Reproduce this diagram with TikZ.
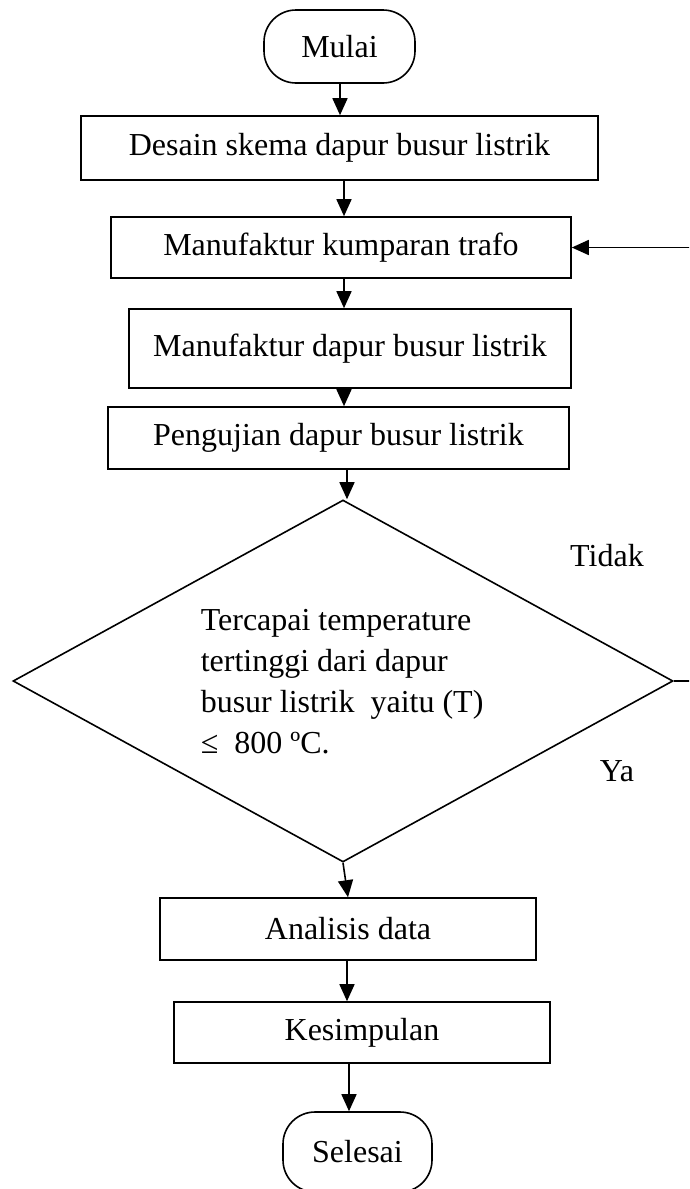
\documentclass[tikz,border=0pt]{standalone}
\usepackage{fontspec}
\setmainfont{Liberation Serif}
\usetikzlibrary{shapes.geometric,arrows.meta}
\begin{document}
\begin{tikzpicture}[x=1pt,y=-1pt,line width=1.6pt,
  txt/.style={font=\fontsize{32}{41}\selectfont},
  box/.style={draw,rectangle,inner sep=0pt,txt},
  term/.style={draw,rectangle,rounded corners=32pt,inner sep=0pt,txt},
  arr/.style={-{Triangle[length=17pt,width=15pt]}}]
\useasboundingbox (0,0) rectangle (689,1189);
\clip (0,0) rectangle (689,1189);
% nodes
\node[term,minimum width=151pt,minimum height=73pt] (start) at (339.5,46.5) {\raisebox{-4pt}{Mulai}};
\node[box,minimum width=517pt,minimum height=64pt] (b1) at (339.5,148) {Desain skema dapur busur listrik};
\node[box,minimum width=460pt,minimum height=61pt] (b2) at (341,247.5) {Manufaktur kumparan trafo};
\node[box,minimum width=442pt,minimum height=79pt] (b3) at (350,348.5) {\raisebox{6pt}{Manufaktur dapur busur listrik}};
\node[box,minimum width=461pt,minimum height=62pt] (b4) at (338.5,438) {Pengujian dapur busur listrik};
\node[draw,diamond,inner sep=0pt,shape aspect=1.823,minimum width=660pt,minimum height=362pt] (d) at (343,681) {};
\node[txt,anchor=north west,align=left,inner sep=0pt] (dt) at (200,609)
  {Tercapai temperature\\tertinggi dari dapur\\busur listrik\ \ yaitu (T)\\≤\ \ 800 ºC.};
\node[txt,inner sep=0pt] (tidak) at (607,556) {Tidak};
\node[txt,inner sep=0pt] (ya) at (617,771) {Ya};
\node[box,minimum width=376pt,minimum height=62pt] (an) at (348,929) {Analisis data};
\node[box,minimum width=376pt,minimum height=61pt] (ks) at (362,1032.5) {Kesimpulan};
\node[term,minimum width=149pt,minimum height=80pt] (se) at (357.5,1152) {Selesai};
% columns for connectors
\coordinate (c1) at (340,0);
\coordinate (c2) at (344,0);
\coordinate (c3) at (347,0);
\coordinate (c5) at (349,0);
\coordinate (loop) at (705,0);
% connectors
\draw[arr] (start.south -| c1) -- (b1.north -| c1);
\draw[arr] (b1.south -| c2) -- (b2.north -| c2);
\draw[arr] (b2.south -| c2) -- (b3.north -| c2);
\draw[arr] (b3.south -| c2) -- (b4.north -| c2);
\draw[arr] (b4.south -| c3) -- (d.north -| c3);
\draw[arr] (d.south) -- (an.north);
\draw[arr] (an.south -| c3) -- (ks.north -| c3);
\draw[arr] (ks.south -| c5) -- (se.north -| c5);
\draw[arr] (d.east) -- (d.east -| loop) |- (b2.east);
\end{tikzpicture}
\end{document}
